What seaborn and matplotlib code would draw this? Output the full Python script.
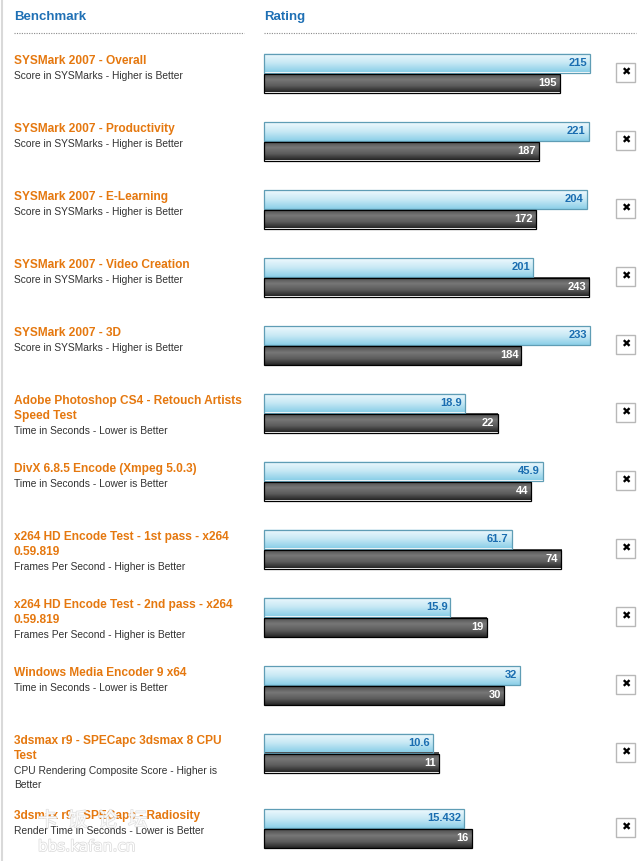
import matplotlib
matplotlib.use("Agg")
import numpy as np
import pandas as pd
import matplotlib.pyplot as plt
import seaborn as sns
import matplotlib.patheffects as pe
from matplotlib.colors import LinearSegmentedColormap
from matplotlib.patches import Rectangle
from matplotlib.lines import Line2D

# --- data ---
titles = [
    "SYSMark 2007 - Overall",
    "SYSMark 2007 - Productivity",
    "SYSMark 2007 - E-Learning",
    "SYSMark 2007 - Video Creation",
    "SYSMark 2007 - 3D",
    "Adobe Photoshop CS4 - Retouch Artists\nSpeed Test",
    "DivX 6.8.5 Encode (Xmpeg 5.0.3)",
    "x264 HD Encode Test - 1st pass - x264\n0.59.819",
    "x264 HD Encode Test - 2nd pass - x264\n0.59.819",
    "Windows Media Encoder 9 x64",
    "3dsmax r9 - SPECapc 3dsmax 8 CPU\nTest",
    "3dsmax r9 - SPECapc - Radiosity",
]
subtitles = [
    "Score in SYSMarks - Higher is Better",
    "Score in SYSMarks - Higher is Better",
    "Score in SYSMarks - Higher is Better",
    "Score in SYSMarks - Higher is Better",
    "Score in SYSMarks - Higher is Better",
    "Time in Seconds - Lower is Better",
    "Time in Seconds - Lower is Better",
    "Frames Per Second - Higher is Better",
    "Frames Per Second - Higher is Better",
    "Time in Seconds - Lower is Better",
    "CPU Rendering Composite Score - Higher is\nBetter",
    "Render Time in Seconds - Lower is Better",
]
blue_scores = [215, 221, 204, 201, 233, 18.9, 45.9, 61.7, 15.9, 32, 10.6, 15.432]
dark_scores = [195, 187, 172, 243, 184, 22, 44, 74, 19, 30, 11, 16]
# each row has its own scale (full bar width)
row_max = [215, 222, 206, 243.5, 233, 30.7, 53.7, 81.2, 27.8, 40.7, 20.5, 25.1]

W, H = 641, 861

sns.set_theme(style="white")
plt.rcParams["font.family"] = ["Liberation Sans", "DejaVu Sans"]

fig = plt.figure(figsize=(W / 100, H / 100), dpi=100)
fig.patch.set_facecolor("white")


def fx(x):
    return x / W


def fy(y):
    return 1 - y / H


ORANGE = "#e5780f"
HEAD = "#1f70b5"
SUB = "#333333"

# left border
fig.add_artist(Line2D([fx(1.5), fx(1.5)], [0, 1], color="#d9d9d9", lw=1.5))

# headers + dotted rules
fig.text(fx(14), fy(20), "Benchmark", color=HEAD, fontsize=9.5,
         fontweight="bold", va="baseline")
fig.text(fx(264), fy(20), "Rating", color=HEAD, fontsize=9.5,
         fontweight="bold", va="baseline")
for x0, x1 in [(14, 244), (264, 636)]:
    fig.add_artist(Line2D([fx(x0), fx(x1)], [fy(33), fy(33)], color="#8a8a8a",
                          lw=0.8, linestyle=(0, (1, 1.2))))

blue_cmap = LinearSegmentedColormap.from_list("bl", ["#eff9fd", "#c8e9f5", "#8bcfe8"])
dark_cmap = LinearSegmentedColormap.from_list("dk", ["#4c4c4c", "#777777", "#5c5c5c", "#262626"])
grad = np.linspace(0, 1, 64).reshape(-1, 1)

top = 53
for i in range(len(titles)):
    t_lines = titles[i].split("\n")
    s_lines = subtitles[i].split("\n")

    # text column
    base = top + 11
    for k, line in enumerate(t_lines):
        fig.text(fx(14), fy(base + 15 * k), line, color=ORANGE, fontsize=8.6,
                 fontweight="bold", va="baseline")
    sb = base + 15 * len(t_lines)
    for k, line in enumerate(s_lines):
        fig.text(fx(14), fy(sb + 13.5 * k), line, color=SUB, fontsize=7.4,
                 va="baseline")

    # bars
    ax = fig.add_axes([fx(264), fy(top + 40), 326 / W, 40 / H])
    df = pd.DataFrame({"cpu": ["a", "b"], "score": [blue_scores[i], dark_scores[i]]})
    sns.barplot(data=df, x="score", y="cpu", hue="cpu", palette=["#9fd6ea", "#555555"],
                orient="h", width=0.95, legend=False, saturation=1, ax=ax)
    for patch, cmap, edge, tcol in zip(ax.patches, [blue_cmap, dark_cmap],
                                       ["#5f9db5", "#000000"], ["#1a6db0", "white"]):
        x0, y0 = patch.get_x(), patch.get_y()
        w, h = patch.get_width(), patch.get_height()
        ax.imshow(grad, extent=(x0, x0 + w, y0 + h, y0), aspect="auto",
                  cmap=cmap, zorder=1, interpolation="bilinear")
        patch.set_facecolor("none")
        patch.set_edgecolor(edge)
        patch.set_linewidth(0.9)
        patch.set_zorder(2)
        patch.set_clip_on(False)
        ax.annotate(f"{w:g}", xy=(x0 + w, y0 + h / 2), xytext=(-3, 0),
                    textcoords="offset pixels", ha="right", va="center",
                    fontsize=8, fontweight="bold", color=tcol, zorder=3)
    ax.set_xlim(0, row_max[i])
    ax.set_ylim(1.5, -0.5)
    ax.axis("off")

    # close button
    fig.add_artist(Rectangle((fx(616), fy(top + 29)), 19 / W, 19 / H,
                             facecolor="white", edgecolor="#b8b8b8", lw=1))
    fig.text(fx(625.5), fy(top + 19.5), "\u2716", ha="center", va="center",
             fontsize=8, color="black", family=["DejaVu Sans"])

    nlines = len(t_lines) + len(s_lines)
    top += max(68, 19 + 14 * nlines)

# faint forum watermark (it sits over the last row in the original too)
halo = [pe.withStroke(linewidth=1.1, foreground="#dcdcdc")]
for k, ch in enumerate("卡饭论坛"):
    fig.text(fx(38 + 30 * k), fy(826), ch, fontsize=14, color="white", alpha=0.85,
             family=["Noto Sans CJK SC"], va="baseline", path_effects=halo, zorder=10)
fig.text(fx(38), fy(851), "bbs.kafan.cn", fontsize=11, color="white",
         family=["DejaVu Sans"], va="baseline", path_effects=halo, zorder=10)

fig.savefig("out.png", dpi=100, facecolor="white")
